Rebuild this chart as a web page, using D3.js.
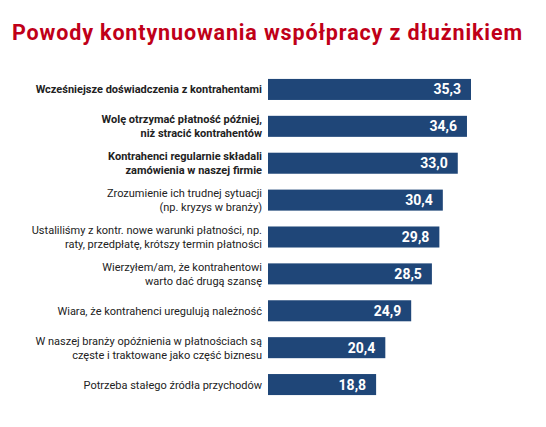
<!DOCTYPE html>
<html><head><meta charset="utf-8">
<script src="https://cdn.jsdelivr.net/npm/d3@7"></script>
<style>body{margin:0;background:#fff}</style></head>
<body><svg id="c" width="546" height="427"></svg>
<script>
const categories = [
  ["Wcześniejsze doświadczenia z kontrahentami"],
  ["Wolę otrzymać płatność później,","niż stracić kontrahentów"],
  ["Kontrahenci regularnie składali","zamówienia w naszej firmie"],
  ["Zrozumienie ich trudnej sytuacji","(np. kryzys w branży)"],
  ["Ustaliliśmy z kontr. nowe warunki płatności, np.","raty, przedpłatę, krótszy termin płatności"],
  ["Wierzytelem/am, że kontrahentowi","warto dać drugą szansę"],
  ["Wiara, że kontrahenci ureguluą należność"],
  ["W naszej branży opóźnienia w płatnościach są","częste i traktowane jako część biznesu"],
  ["Potrzeba stałego źródła przychodów"]
];
categories[5] = ["Wierzyłem/am, że kontrahentowi","warto dać drugą szansę"];
categories[6] = ["Wiara, że kontrahenci uregulują należność"];
const boldRows = [true,true,true,false,false,false,false,false,false];
const values = [35.3,34.6,33.0,30.4,29.8,28.5,24.9,20.4,18.8];
const svg = d3.select("#c");
svg.append("text").attr("x",12).attr("y",40).attr("fill","#c00018")
  .attr("font-family","Roboto, 'Liberation Sans', sans-serif").attr("font-weight","bold")
  .attr("font-size",21.5).attr("textLength",510).text("Powody kontynuowania współpracy z dłużnikiem");
const x = d3.scaleLinear().domain([0,35.3]).range([268,471]);
const y = d3.scaleBand().domain(d3.range(values.length)).range([71,403]).paddingInner(0.43).paddingOuter(0.215);
const g = svg.append("g").attr("font-family","Roboto, 'Liberation Sans', sans-serif");
g.selectAll("rect").data(values).join("rect")
  .attr("x",x(0)).attr("y",(d,i)=>y(i)).attr("width",d=>x(d)-x(0)).attr("height",y.bandwidth())
  .attr("fill","#1f4678");
g.selectAll("text.v").data(values).join("text").attr("class","v")
  .attr("x",d=>x(d)-10).attr("y",(d,i)=>y(i)+y.bandwidth()/2+5)
  .attr("text-anchor","end").attr("fill","#fff").attr("font-weight","bold").attr("font-size",14)
  .text(d=>d.toFixed(1).replace(".",","));
categories.forEach((lines,i)=>{
  const cy = y(i)+y.bandwidth()/2;
  const t = g.append("text").attr("text-anchor","end").attr("font-size",11)
    .attr("font-weight",boldRows[i]?"bold":"normal").attr("fill","#222");
  lines.forEach((l,k)=>{
    t.append("tspan").attr("x",262).attr("y",cy+4+(k-(lines.length-1)/2)*14).text(l);
  });
});
</script></body></html>
